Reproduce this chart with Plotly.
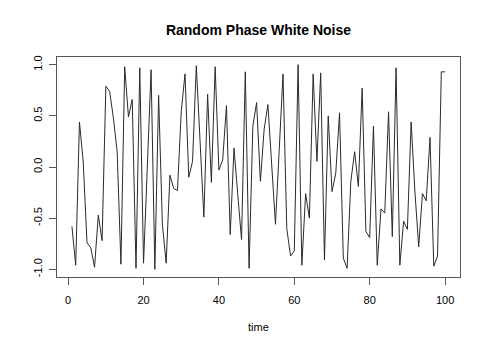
import plotly.graph_objects as go

# Time index and the random-phase white noise series
time = list(range(1, 101))
noise = [
    -0.58, -0.96, 0.44, 0.05, -0.74, -0.79, -0.98, -0.47, -0.72, 0.79,
    0.74, 0.48, 0.15, -0.95, 0.98, 0.49, 0.66, -0.99, 0.97, -0.94,
    0.00, 0.95, -1.00, 0.70, -0.56, -0.94, -0.08, -0.21, -0.23, 0.54,
    0.91, -0.10, 0.055, 0.99, 0.25, -0.49, 0.71, -0.15, 0.98, -0.03,
    0.07, 0.60, -0.66, 0.185, -0.27, -0.71, 0.93, -0.99, 0.40, 0.63,
    -0.14, 0.37, 0.61, 0.02, -0.56, 0.17, 0.91, -0.60, -0.87, -0.82,
    1.00, -0.96, -0.26, -0.50, 0.91, 0.055, 0.92, -0.91, 0.50, -0.24,
    -0.06, 0.53, -0.89, -0.99, -0.14, 0.15, -0.19, 0.77, -0.63, -0.69,
    0.40, -0.96, -0.41, -0.45, 0.54, -0.68, 0.97, -0.96, -0.53, -0.61,
    0.44, -0.24, -0.78, -0.26, -0.33, 0.29, -0.97, -0.87, 0.93, 0.93,
]
x_ticks = [0, 20, 40, 60, 80, 100]
y_ticks = [-1.0, -0.5, 0.0, 0.5, 1.0]
y_tick_text = ["-1.0", "-0.5", "0.0", "0.5", "1.0"]

FONT = "Liberation Sans, Arial, sans-serif"

fig = go.Figure(
    go.Scatter(
        x=time, y=noise, mode="lines",
        line=dict(color="#2a2a2a", width=1),
        hoverinfo="skip",
    )
)

axis_common = dict(
    showline=True, mirror=True, linecolor="#555555", linewidth=1,
    ticks="outside", ticklen=7, tickwidth=1, tickcolor="#555555",
    showgrid=False, zeroline=False,
    tickfont=dict(family=FONT, size=11, color="black"),
)

fig.update_layout(
    width=489, height=349,
    margin=dict(l=57, r=29, t=57, b=72),
    paper_bgcolor="white", plot_bgcolor="white",
    showlegend=False,
    title=dict(
        text="<b>Random Phase White Noise</b>",
        x=0.5, xref="paper", y=1 - 30 / 349, yref="container",
        xanchor="center", yanchor="middle",
        font=dict(family=FONT, size=14, color="black"),
    ),
    xaxis=dict(range=[-2.96, 103.96], tickvals=x_ticks,
               ticklabelstandoff=6, **axis_common),
    yaxis=dict(range=[-1.075, 1.075], tickvals=y_ticks, ticktext=y_tick_text,
               tickangle=-90, ticklabelstandoff=3, **axis_common),
    annotations=[
        dict(text="time", x=0.5, xref="paper", y=-0.229, yref="paper",
             xanchor="center", yanchor="middle", showarrow=False,
             font=dict(family=FONT, size=11, color="black")),
    ],
)

fig.write_html("out.html")
